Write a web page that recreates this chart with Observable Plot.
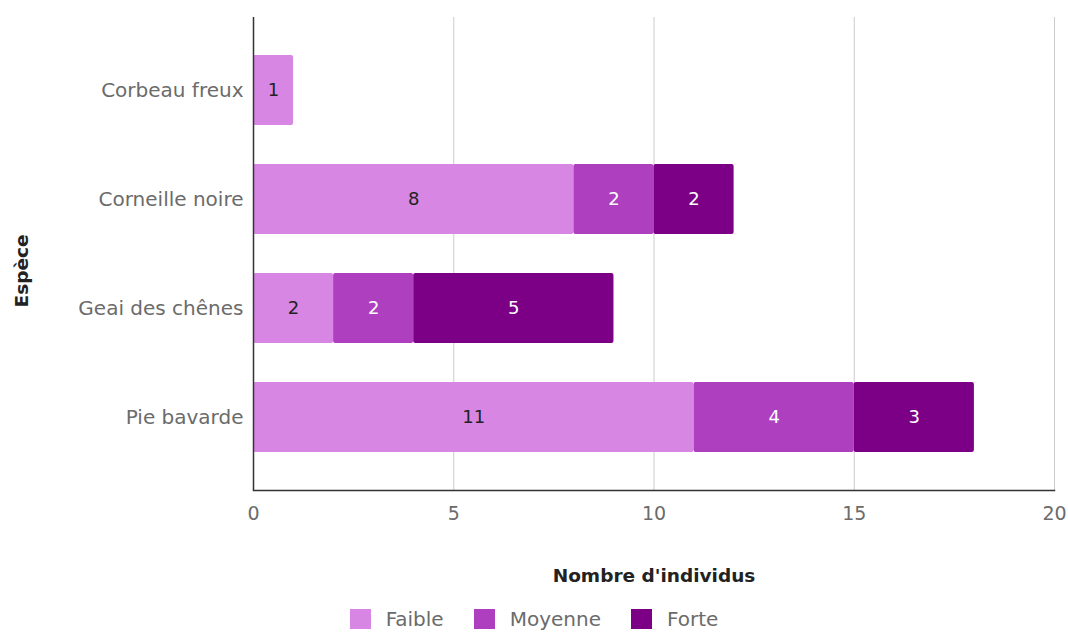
<!DOCTYPE html>
<html>
<head>
<meta charset="utf-8">
<script src="https://cdn.jsdelivr.net/npm/d3@7"></script>
<script src="https://cdn.jsdelivr.net/npm/@observablehq/plot@0.6"></script>
<style>
  body { margin: 0; background: #fff; font-family: "DejaVu Sans", sans-serif; }
  #legend { display: flex; justify-content: center; align-items: center; height: 30px; padding-top: 4px; font-size: 20px; color: #6b6b6b; }
  .item { display: flex; align-items: center; margin: 0 15px; }
  .sw { width: 21px; height: 20px; margin-right: 15px; }
</style>
</head>
<body>
<div id="chart"></div>
<div id="legend"></div>
<script>
const species = ["Corbeau freux", "Corneille noire", "Geai des chênes", "Pie bavarde"];
const levels = ["Faible", "Moyenne", "Forte"];
const faible = [1, 8, 2, 11];
const moyenne = [0, 2, 2, 4];
const forte = [0, 2, 5, 3];
const colors = ["#d886e3", "#ae40bf", "#7c0086"];
const xTicks = [0, 5, 10, 15, 20];

const series = [faible, moyenne, forte];
const data = [];
levels.forEach((lv, i) => {
  species.forEach((sp, j) => {
    if (series[i][j] > 0) data.push({species: sp, level: lv, value: series[i][j]});
  });
});

const chart = Plot.plot({
  width: 1068,
  height: 600,
  marginLeft: 253,
  marginRight: 14,
  marginTop: 17,
  marginBottom: 110,
  style: {fontFamily: "'DejaVu Sans', sans-serif", fontSize: "20px", background: "#fff"},
  x: {domain: [0, 20], ticks: xTicks},
  y: {domain: species, paddingInner: 0.36, paddingOuter: 0.343},
  color: {domain: levels, range: colors},
  marks: [
    Plot.gridX(xTicks.slice(1), {stroke: "#cccccc", strokeOpacity: 1}),
    Plot.barX(data, {x: "value", y: "species", fill: "level", rx: 2}),
    Plot.text(data, Plot.stackX({x: "value", y: "species", z: "level", text: "value",
      fill: d => d.level === "Faible" ? "#222" : "#fff", fontSize: 18})),
    Plot.ruleX([0], {stroke: "#333", strokeWidth: 1.5}),
    Plot.frame({anchor: "bottom", stroke: "#333", strokeWidth: 1.5}),
    Plot.axisX(xTicks, {tickSize: 0, tickPadding: 16, fill: "#6b6b6b", label: null, fontSize: 19}),
    Plot.axisY({tickSize: 0, tickPadding: 10, fill: "#6b6b6b", label: null, fontSize: 20}),
    Plot.text(["Nombre d'individus"], {frameAnchor: "bottom", dy: 91, fontWeight: "bold", fill: "#222", fontSize: 18.5}),
    Plot.text(["Espèce"], {frameAnchor: "left", textAnchor: "middle", dx: -231, dy: 17, rotate: -90, fontWeight: "bold", fill: "#222", fontSize: 18.5})
  ]
});
document.getElementById("chart").appendChild(chart);

const legend = document.getElementById("legend");
levels.forEach((lv, i) => {
  const it = document.createElement("div");
  it.className = "item";
  const sw = document.createElement("div");
  sw.className = "sw";
  sw.style.background = colors[i];
  it.appendChild(sw);
  const t = document.createElement("span");
  t.textContent = lv;
  it.appendChild(t);
  legend.appendChild(it);
});
</script>
</body>
</html>
